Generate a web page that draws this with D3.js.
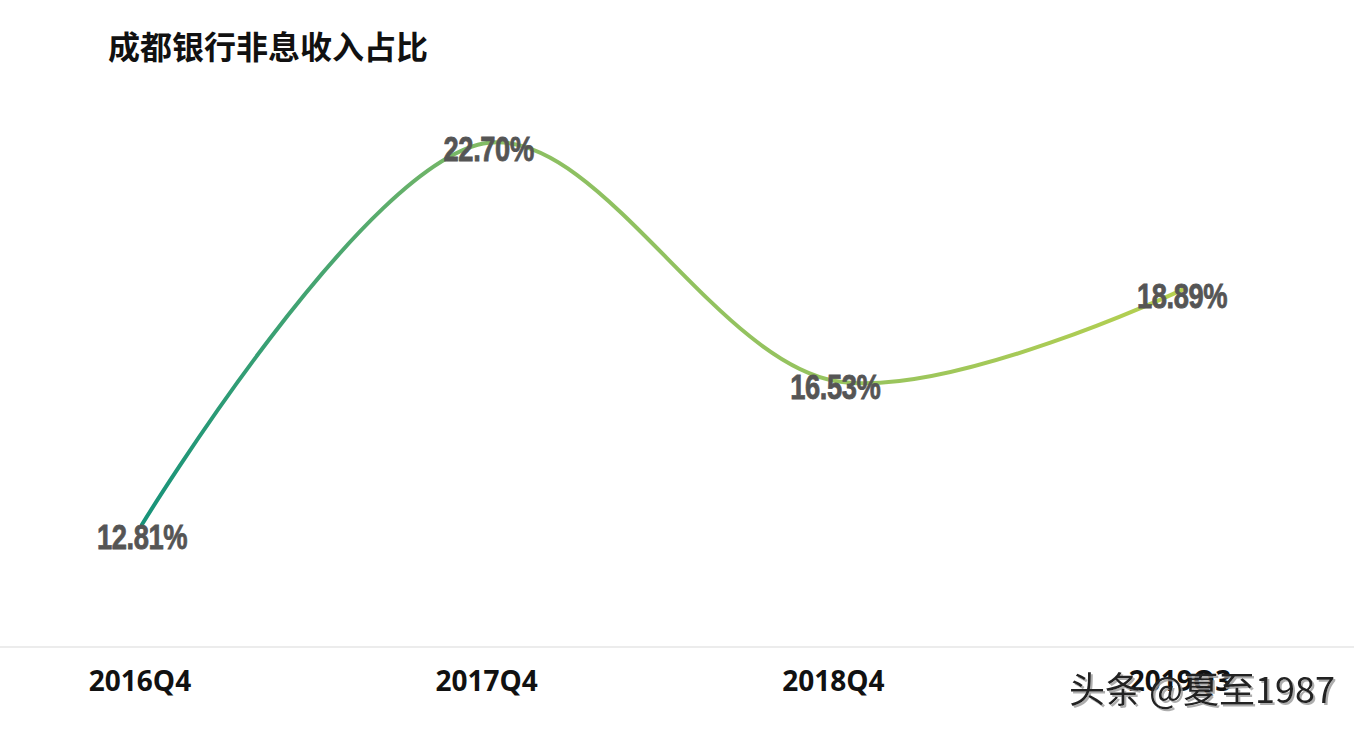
<!DOCTYPE html>
<html>
<head>
<meta charset="utf-8">
<script src="https://cdn.jsdelivr.net/npm/d3@7"></script>
<style>
  body{margin:0;background:#fff;}
  svg{display:block;}
</style>
</head>
<body>
<div id="chart"></div>
<script>
var W=1354, H=730;
var title="成都银行非息收入占比";
var categories=["2016Q4","2017Q4","2018Q4","2019Q3"];
var values=[12.81,22.70,16.53,18.89];
var valueLabels=["12.81%","22.70%","16.53%","18.89%"];
var watermark="头条 @夏至1987";

var svg=d3.select("#chart").append("svg").attr("width",W).attr("height",H);

var x=d3.scalePoint().domain(categories).range([142,1182]);
var y=d3.scaleLinear().domain([10,25]).range([633,54]);

// gradient along the line
var defs=svg.append("defs");
var grad=defs.append("linearGradient")
  .attr("id","lineGrad")
  .attr("gradientUnits","userSpaceOnUse")
  .attr("x1",x(categories[0])).attr("x2",x(categories[3]))
  .attr("y1",0).attr("y2",0);
grad.append("stop").attr("offset","0%").attr("stop-color","#17937a");
grad.append("stop").attr("offset","20%").attr("stop-color","#4fa86f");
grad.append("stop").attr("offset","35%").attr("stop-color","#8bbf62");
grad.append("stop").attr("offset","70%").attr("stop-color","#98c45e");
grad.append("stop").attr("offset","100%").attr("stop-color","#b6d04f");

var shadow=defs.append("filter").attr("id","wmShadow");
shadow.append("feDropShadow").attr("dx",2).attr("dy",2).attr("stdDeviation",0.6)
  .attr("flood-color","#999").attr("flood-opacity",0.8);

svg.append("text")
  .attr("x",108).attr("y",59)
  .attr("font-family","'Noto Sans CJK SC',sans-serif")
  .attr("font-weight","bold")
  .attr("font-size",32)
  .attr("fill","#111")
  .text(title);

// axis line
svg.append("line")
  .attr("x1",0).attr("x2",W)
  .attr("y1",647).attr("y2",647)
  .attr("stroke","#d9d9d9").attr("stroke-width",1);

var line=d3.line()
  .x(function(d,i){return x(categories[i]);})
  .y(function(d){return y(d);})
  .curve(d3.curveCatmullRom.alpha(0.5));

svg.append("path")
  .datum(values)
  .attr("d",line)
  .attr("fill","none")
  .attr("stroke","url(#lineGrad)")
  .attr("stroke-width",4)
  .attr("stroke-linecap","round");

// condensed bold value labels
svg.selectAll(".vlab").data(values).enter().append("text")
  .attr("class","vlab")
  .attr("transform",function(d,i){
    return "translate("+x(categories[i])+","+(y(d)+(i==0?24:18))+") scale(0.78,1)";
  })
  .attr("text-anchor","middle")
  .attr("font-family","'Liberation Sans','Arial',sans-serif")
  .attr("font-weight","bold")
  .attr("font-size",35)
  .attr("letter-spacing",-0.5)
  .attr("fill","#555")
  .attr("stroke","#555")
  .attr("stroke-width",0.8)
  .text(function(d,i){return valueLabels[i];});

svg.selectAll(".xlab").data(categories).enter().append("text")
  .attr("class","xlab")
  .attr("x",function(d){return x(d)-2;})
  .attr("y",691)
  .attr("text-anchor","middle")
  .attr("font-family","'Open Sans',sans-serif")
  .attr("font-weight","bold")
  .attr("font-size",28)
  .attr("fill","#111")
  .text(function(d){return d;});

svg.append("text")
  .attr("x",1335).attr("y",703)
  .attr("text-anchor","end")
  .attr("font-family","'Noto Sans CJK SC','Noto Sans',sans-serif")
  .attr("font-weight",400)
  .attr("font-size",36)
  .attr("fill","#222")
  .attr("filter","url(#wmShadow)")
  .text(watermark);
</script>
</body>
</html>
